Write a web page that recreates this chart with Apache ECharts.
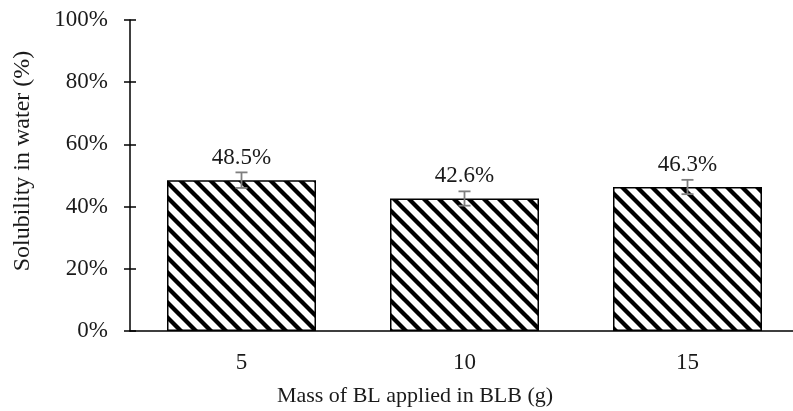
<!DOCTYPE html>
<html>
	<head>
		<meta charset="UTF-8">
		<script type="text/javascript" src="https://cdn.jsdelivr.net/npm/echarts@6/dist/echarts.min.js"></script>
		<style>
			html, body { margin: 0; padding: 0; background: #fff; overflow: hidden; }
			#chart { width: 799px; height: 411px; }
		</style>
	</head>
	<body>
		<div id="chart"></div>
		<script type="text/javascript">
			// data
			var masses = ['5', '10', '15'];
			var solubility = [0.485, 0.426, 0.463];
			var errors = [0.025, 0.023, 0.023];
			var yTicks = [0, 0.2, 0.4, 0.6, 0.8, 1];

			var FONT = 'Liberation Serif';

			// hatch pattern, lines going down to the right
			function hatch() {
				var s = 15;
				var c = document.createElement('canvas');
				c.width = s; c.height = s;
				var ctx = c.getContext('2d');
				ctx.fillStyle = '#fff';
				ctx.fillRect(0, 0, s, s);
				ctx.strokeStyle = '#000';
				ctx.lineWidth = 4.3;
				for (var k = -1; k <= 1; k++) {
					ctx.beginPath();
					ctx.moveTo(k * s - 2, -2);
					ctx.lineTo(k * s + s + 2, s + 2);
					ctx.stroke();
				}
				return c;
			}

			var tickStyle = { color: '#000', width: 1.5 };

			var myChart = echarts.init(document.getElementById('chart'));
			var option = {
				animation: false,
				backgroundColor: '#fff',
				textStyle: { fontFamily: FONT },
				grid: { left: 130, top: 20, bottom: 80, right: 0 },
				xAxis: [
					{
						type: 'category',
						data: masses,
						axisLine: { lineStyle: { color: '#000', width: 1.5 } },
						axisTick: { length: 6, lineStyle: tickStyle },
						axisLabel: { margin: 20, fontSize: 23, color: '#1a1a1a', fontFamily: FONT }
					},
					{
						// inner half of the crossing ticks
						type: 'category',
						data: masses,
						position: 'bottom',
						axisLine: { show: false },
						axisTick: { inside: true, length: 6, lineStyle: tickStyle },
						axisLabel: { show: false }
					}
				],
				yAxis: [
					{
						type: 'value',
						min: yTicks[0],
						max: yTicks[yTicks.length - 1],
						interval: 0.2,
						splitLine: { show: false },
						axisLine: { show: true, lineStyle: { color: '#000', width: 1.5 } },
						axisTick: { show: true, length: 6, lineStyle: tickStyle },
						axisLabel: {
							margin: 22, fontSize: 23, color: '#1a1a1a', fontFamily: FONT,
							formatter: function (v) { return Math.round(v * 100) + '%'; }
						}
					},
					{
						type: 'value',
						position: 'left',
						min: yTicks[0],
						max: yTicks[yTicks.length - 1],
						interval: 0.2,
						splitLine: { show: false },
						axisLine: { show: false },
						axisTick: { show: true, inside: true, length: 6, lineStyle: tickStyle },
						axisLabel: { show: false }
					}
				],
				graphic: [
					{
						type: 'text', x: 23, y: 161, rotation: Math.PI / 2,
						style: { text: 'Solubility in water (%)', font: '24px "' + FONT + '"', fill: '#1a1a1a', align: 'center', verticalAlign: 'middle' }
					},
					{
						type: 'text', x: 415, y: 396,
						style: { text: 'Mass of BL applied in BLB (g)', font: '22px "' + FONT + '"', fill: '#1a1a1a', align: 'center', verticalAlign: 'middle' }
					}
				],
				series: [
					{
						type: 'bar',
						data: solubility,
						barWidth: 149,
						itemStyle: {
							color: { image: hatch(), repeat: 'repeat' },
							borderColor: '#000',
							borderWidth: 1.5
						},
						label: {
							show: true,
							position: 'top',
							distance: 11,
							fontSize: 23,
							color: '#1a1a1a',
							fontFamily: FONT,
							formatter: function (p) { return (p.value * 100).toFixed(1) + '%'; }
						}
					},
					{
						type: 'custom',
						data: solubility.map(function (v, i) { return [i, v - errors[i], v + errors[i]]; }),
						renderItem: function (params, api) {
							var lo = api.coord([api.value(0), api.value(1)]);
							var hi = api.coord([api.value(0), api.value(2)]);
							var w = 6;
							var st = { stroke: '#7f7f7f', lineWidth: 1.8 };
							return {
								type: 'group',
								children: [
									{ type: 'line', shape: { x1: lo[0], y1: lo[1], x2: hi[0], y2: hi[1] }, style: st },
									{ type: 'line', shape: { x1: lo[0] - w, y1: lo[1], x2: lo[0] + w, y2: lo[1] }, style: st },
									{ type: 'line', shape: { x1: hi[0] - w, y1: hi[1], x2: hi[0] + w, y2: hi[1] }, style: st }
								]
							};
						},
						z: 5
					}
				]
			};
			myChart.setOption(option);
		</script>
	</body>
</html>
